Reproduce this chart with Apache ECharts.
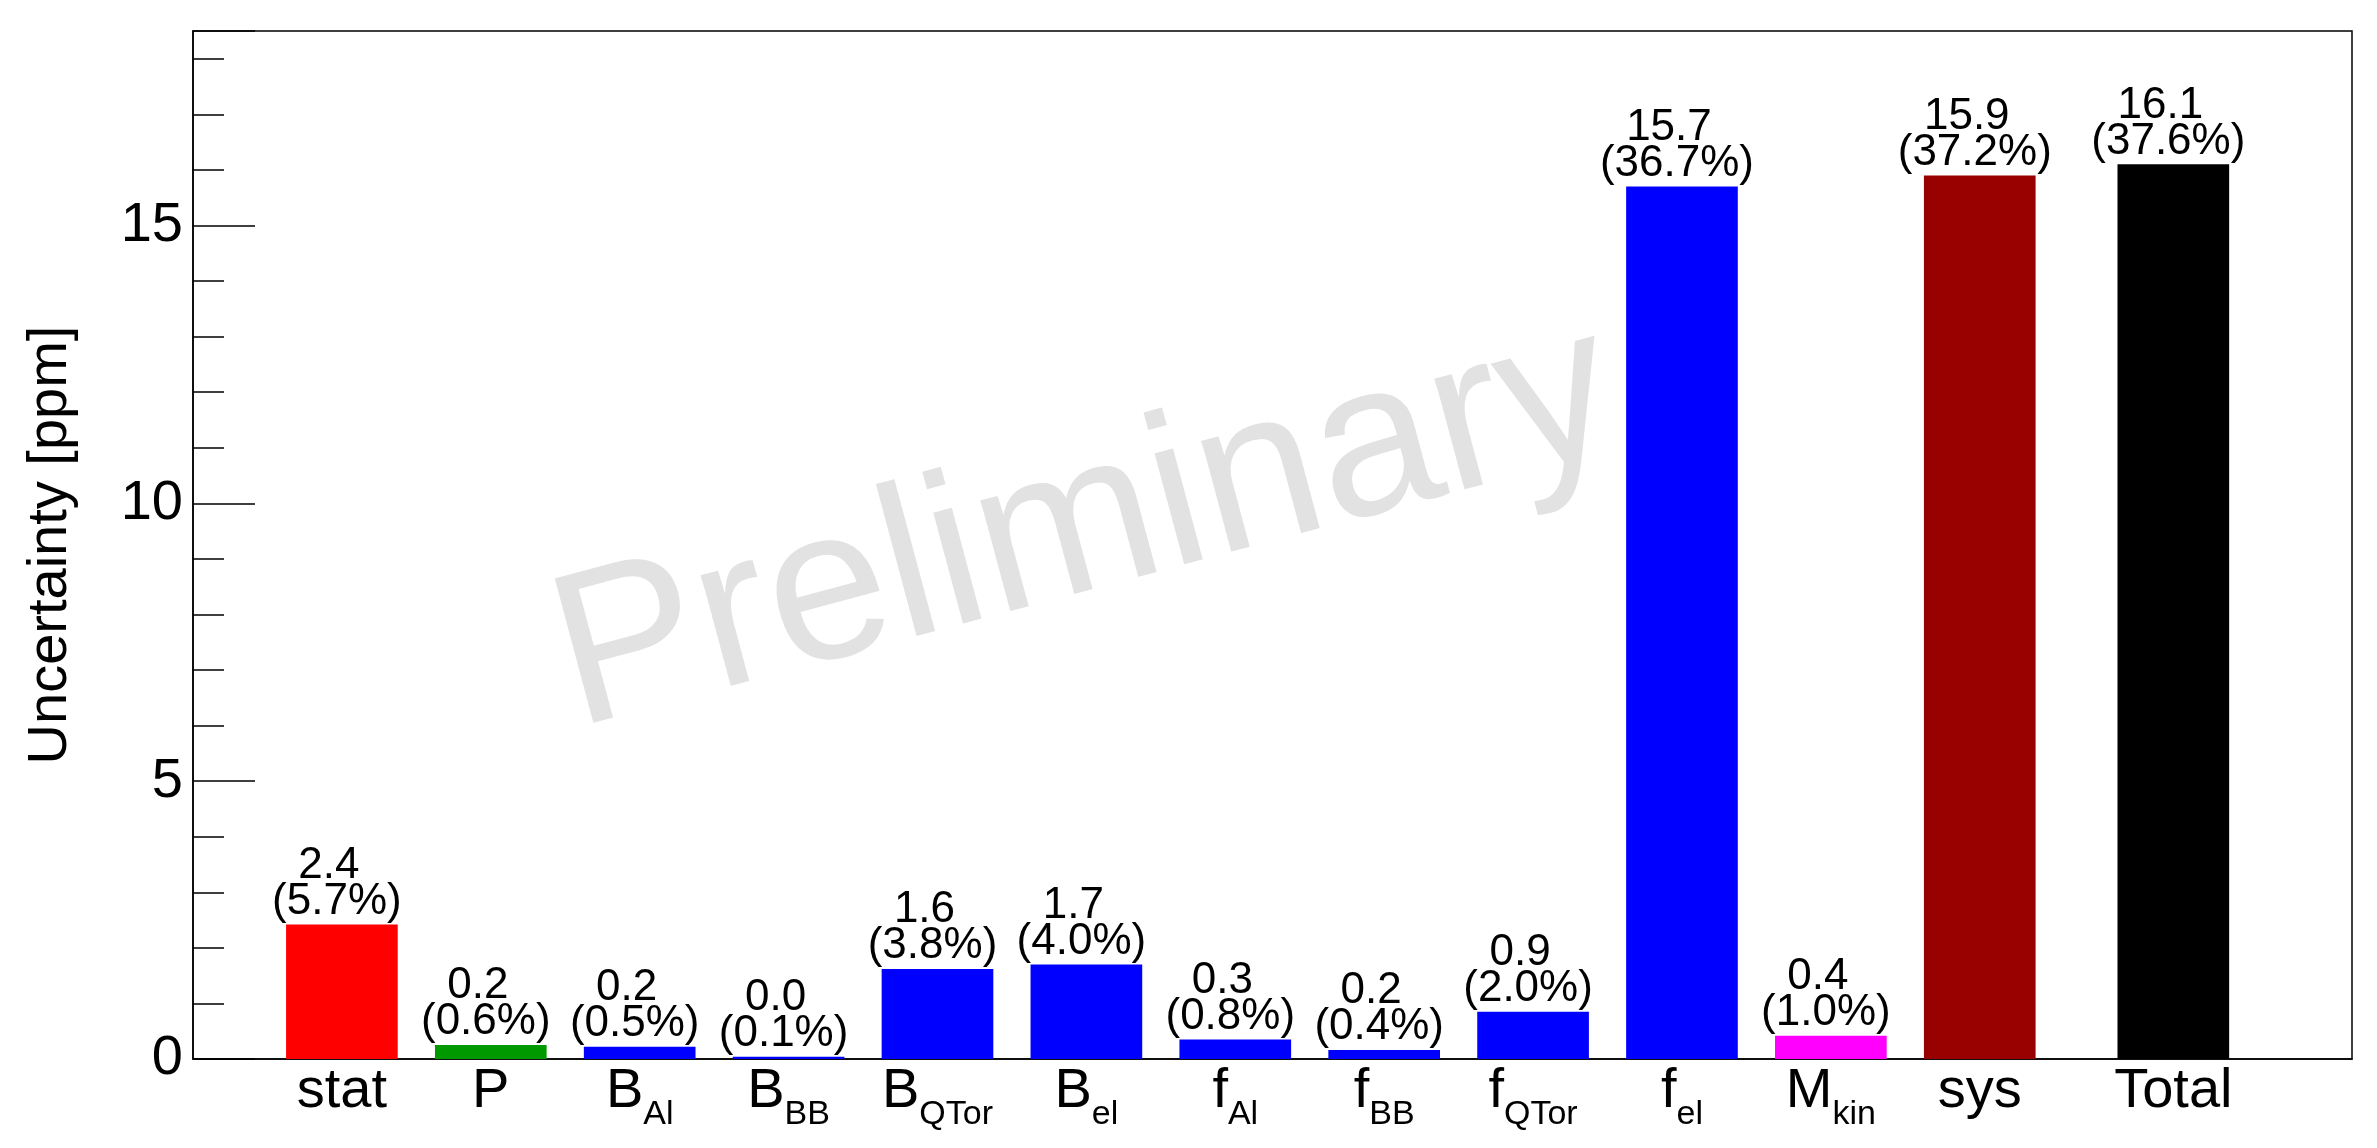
<!DOCTYPE html>
<html>
<head>
<meta charset="utf-8">
<script src="https://cdn.jsdelivr.net/npm/echarts@6/dist/echarts.min.js"></script>
<style>
  html, body { margin: 0; padding: 0; background: #fff; }
  #chart { width: 2377px; height: 1148px; }
</style>
</head>
<body>
<div id="chart"></div>
<script>
// bin labels: main text + subscript
const labelMain = ['stat', 'P', 'B', 'B', 'B', 'B', 'f', 'f', 'f', 'f', 'M', 'sys', 'Total']
const labelSub = ['', '', 'Al', 'BB', 'QTor', 'el', 'Al', 'BB', 'QTor', 'el', 'kin', '', '']
// bin centres on the x axis
const binCenters = [1, 2, 3, 4, 5, 6, 7, 8, 9, 10, 11, 12, 13.3]
// uncertainty in ppm
const uncertainty = [2.42, 0.25, 0.22, 0.04, 1.62, 1.70, 0.35, 0.16, 0.85, 15.7, 0.42, 15.9, 16.1]
const valueText = ['2.4', '0.2', '0.2', '0.0', '1.6', '1.7', '0.3', '0.2', '0.9', '15.7', '0.4', '15.9', '16.1']
const shareText = ['5.7%', '0.6%', '0.5%', '0.1%', '3.8%', '4.0%', '0.8%', '0.4%', '2.0%', '36.7%', '1.0%', '37.2%', '37.6%']
const barColors = ['#ff0000', '#009900', '#0000ff', '#0000ff', '#0000ff', '#0000ff', '#0000ff',
  '#0000ff', '#0000ff', '#0000ff', '#ff00ff', '#990000', '#000000']
const yMajorTicks = [0, 5, 10, 15]

const BAR_WIDTH = 0.75
const FONT = '"Liberation Sans", Arial, Helvetica, sans-serif'

const chart = echarts.init(document.getElementById('chart'))

// small helper for the two-line value label above each bar
const valueLine = (text, x, y) => ({
  type: 'text',
  x,
  y,
  style: {
    text,
    fontFamily: FONT,
    fontSize: 44,
    lineHeight: 36,
    fill: '#000',
    align: 'center',
    verticalAlign: 'bottom'
  }
})

const renderBar = (params, api) => {
  const i = params.dataIndex
  const x = api.value(0)
  const w = api.size([BAR_WIDTH, 0])[0]
  const top = api.coord([x, api.value(1)])
  const base = api.coord([x, 0])
  const name = labelSub[i]
    ? `{m|${labelMain[i]}}{s|${labelSub[i]}}`
    : `{m|${labelMain[i]}}`
  return {
    type: 'group',
    children: [
      {
        type: 'rect',
        shape: { x: top[0] - w / 2, y: top[1], width: w, height: base[1] - top[1] },
        style: { fill: barColors[i] }
      },
      valueLine(valueText[i], top[0] - 13, top[1] - 41),
      valueLine('(' + shareText[i] + ')', top[0] - 5, top[1] - 5),
      {
        type: 'text',
        x: base[0],
        y: base[1] + 5,
        style: {
          text: name,
          align: 'center',
          verticalAlign: 'top',
          rich: {
            m: { fontFamily: FONT, fontSize: 56, lineHeight: 56, verticalAlign: 'top', fill: '#000' },
            s: { fontFamily: FONT, fontSize: 34, lineHeight: 34, verticalAlign: 'top', padding: [34, 0, 0, 0], fill: '#000' }
          }
        }
      }
    ]
  }
}

const option = {
  backgroundColor: '#fff',
  animation: false,
  grid: {
    left: 193,
    right: 25,
    top: 31,
    bottom: 89,
    show: true,
    borderColor: '#000',
    borderWidth: 1.5
  },
  graphic: [
    {
      type: 'text',
      x: 1085,
      y: 529,
      rotation: 15 * Math.PI / 180,
      z: -1,
      style: {
        text: 'Preliminary',
        fontFamily: FONT,
        fontSize: 217,
        fill: '#e2e2e2',
        align: 'center',
        verticalAlign: 'middle'
      }
    }
  ],
  xAxis: {
    type: 'value',
    min: 0,
    max: 14.5,
    axisLine: { lineStyle: { color: '#000', width: 1.5 } },
    axisTick: { show: false },
    axisLabel: { show: false },
    splitLine: { show: false }
  },
  yAxis: [
    {
      type: 'value',
      position: 'left',
      min: 0,
      max: 18.5,
      interval: 5,
      name: 'Uncertainty [ppm]',
      nameLocation: 'middle',
      nameRotate: 90,
      nameGap: 114,
      nameTextStyle: { fontFamily: FONT, fontSize: 56, color: '#000' },
      axisLine: { show: true, lineStyle: { color: '#000', width: 1.5 } },
      axisTick: { show: true, inside: true, length: 62, lineStyle: { color: '#000', width: 1.5 } },
      axisLabel: {
        fontFamily: FONT,
        fontSize: 56,
        color: '#000',
        margin: 10,
        formatter: v => (yMajorTicks.includes(v) ? String(v) : '')
      },
      splitLine: { show: false }
    },
    {
      type: 'value',
      position: 'left',
      min: 0,
      max: 18.5,
      interval: 1,
      axisLine: { show: false },
      axisTick: { show: true, inside: true, length: 31, lineStyle: { color: '#000', width: 1.5 } },
      axisLabel: { show: false },
      splitLine: { show: false }
    }
  ],
  series: [
    {
      type: 'custom',
      renderItem: renderBar,
      encode: { x: 0, y: 1 },
      data: binCenters.map((x, i) => [x, uncertainty[i]]),
      clip: false,
      z: 2
    }
  ]
}

chart.setOption(option)
window.addEventListener('resize', () => chart.resize())
</script>
</body>
</html>
